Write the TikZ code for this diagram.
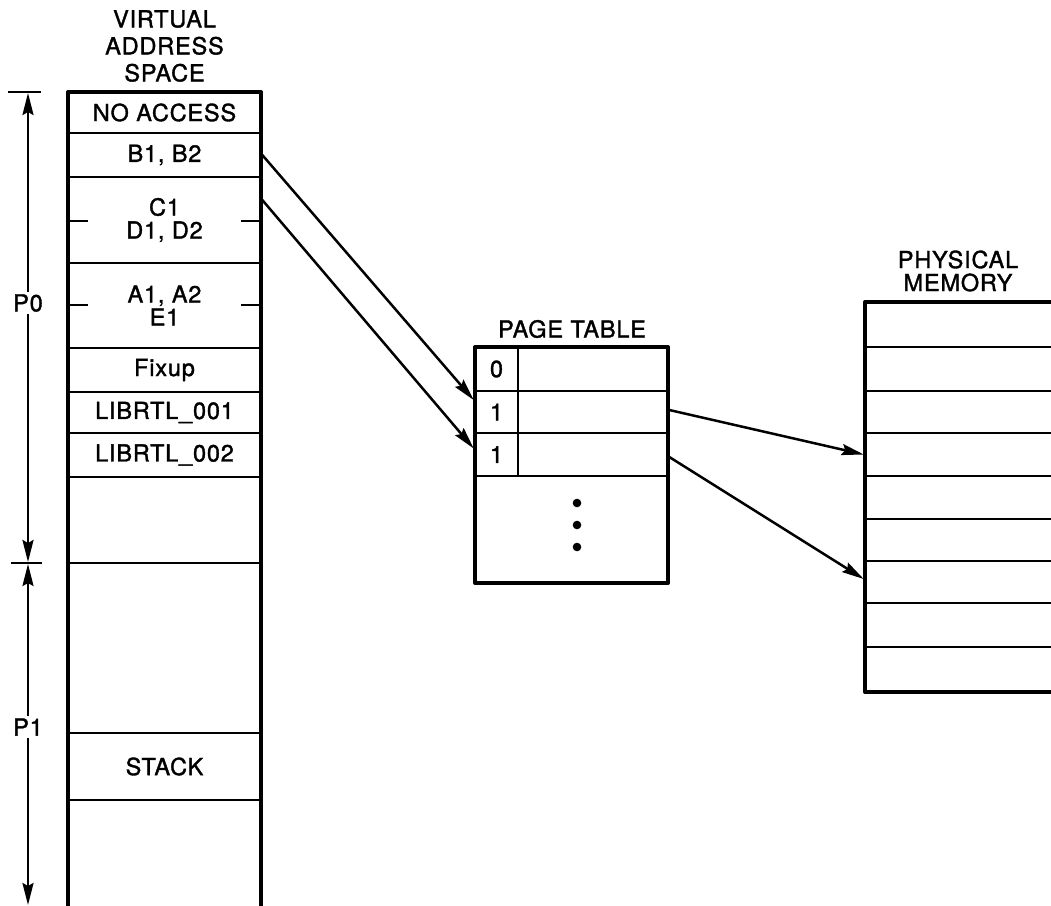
\documentclass[tikz,border=0pt]{standalone}
\usepackage{fontspec}
\setmainfont{TeX Gyre Heros}[LetterSpace=3.5, FakeBold=1.5]
\usetikzlibrary{arrows.meta}
\begin{document}
\begin{tikzpicture}[x=1pt,y=-1pt,
  txt/.style={font=\fontsize{23.5}{23}\selectfont, align=center, inner sep=2pt},
  cell/.style={draw, line width=2.6pt, inner sep=0pt, align=center, font=\fontsize{23.5}{23}\selectfont},
  vcell/.style={cell, minimum width=193pt},
  pcell/.style={cell, minimum width=234pt},
  outer/.style={line width=4pt, line join=round},
  thin/.style={line width=2.6pt},
  arr/.style={line width=2.5pt, -{Stealth[length=22pt,width=11pt,inset=3pt]}}
]
\useasboundingbox (0,0) rectangle (1051,905);
\clip (0,0) rectangle (1051,905);

% ---------- virtual address space ----------
\node[txt, font=\fontsize{23.5}{27}\selectfont] (vtitle) at (164.5,46) {VIRTUAL\\ADDRESS\\SPACE};

\node[vcell, minimum height=41pt] (na) at (164.5,112.5) {NO ACCESS};
\node[vcell, minimum height=44pt] (bb) at (164.5,155) {B1, B2};
\node[vcell, minimum height=86pt] (cc) at (164.5,220) {C1\\D1, D2};
\node[vcell, minimum height=85pt] (aa) at (164.5,305.5) {A1, A2\\E1};
\node[vcell, minimum height=44pt] (fx) at (164.5,370) {Fixup};
\node[vcell, minimum height=41pt] (l1) at (164.5,412.5) {LIBRTL\_001};
\node[vcell, minimum height=44pt] (l2) at (164.5,455) {LIBRTL\_002};
\node[vcell, minimum height=86pt] (e1) at (164.5,520) {};
\node[vcell, minimum height=170pt] (e2) at (164.5,648) {};
\node[vcell, minimum height=67pt] (st) at (164.5,766.5) {STACK};
\node[vcell, minimum height=130pt] (e3) at (164.5,865) {};
\draw[outer] (68,930) -- (68,92) -- (261,92) -- (261,930);

% tick marks
\draw[thin] (68,221) -- (88,221);
\draw[thin] (241,221) -- (261,221);
\draw[thin] (68,305) -- (88,305);
\draw[thin] (241,305) -- (261,305);

% P0 / P1 dimensions
\draw[thin] (8,92) -- (41,92);
\draw[thin] (11,563) -- (42,563);
\coordinate (p0top) at (28,93);
\coordinate (p0bot) at (28,562);
\coordinate (p1top) at (28,564);
\coordinate (p1bot) at (28,905);
\node[txt] (p0) at (28,303) {P0};
\node[txt] (p1) at (28,727) {P1};
\draw[arr] (p0.north) -- (p0top);
\draw[arr] (p0.south) -- (p0bot);
\draw[arr] (p1.north) -- (p1top);
\draw[arr] (p1.south) -- (p1bot);

% ---------- page table ----------
\node[txt] (pttitle) at (572,329) {PAGE TABLE};
\node[cell, minimum width=43pt, minimum height=44pt] (n0) at (496.5,369) {0};
\node[cell, minimum width=150pt, minimum height=44pt] (r0) at (593,369) {};
\node[cell, minimum width=43pt, minimum height=42pt] (n1) at (496.5,412) {1};
\node[cell, minimum width=150pt, minimum height=42pt] (r1) at (593,412) {};
\node[cell, minimum width=43pt, minimum height=43pt] (n2) at (496.5,454.5) {1};
\node[cell, minimum width=150pt, minimum height=43pt] (r2) at (593,454.5) {};
\node[cell, minimum width=193pt, minimum height=107pt] (rb) at (571.5,529.5) {};
\draw[outer] (475,347) rectangle (668,583);
\fill (577,503) circle (4.3pt);
\fill (577,525) circle (4.3pt);
\fill (577,547) circle (4.3pt);

% ---------- physical memory ----------
\node[txt] (pmtitle) at (958,271) {PHYSICAL\\MEMORY};
\node[pcell, minimum height=45pt] (m1) at (982,324.5) {};
\node[pcell, minimum height=44pt] (m2) at (982,369) {};
\node[pcell, minimum height=42pt] (m3) at (982,412) {};
\node[pcell, minimum height=43pt] (m4) at (982,454.5) {};
\node[pcell, minimum height=43pt] (m5) at (982,497.5) {};
\node[pcell, minimum height=42pt] (m6) at (982,540) {};
\node[pcell, minimum height=42pt] (m7) at (982,582) {};
\node[pcell, minimum height=44pt] (m8) at (982,625) {};
\node[pcell, minimum height=45pt] (m9) at (982,669.5) {};
\draw[outer] (1120,302) -- (865,302) -- (865,692) -- (1120,692);

% ---------- connectors ----------
\draw[arr] (bb.east) -- ([yshift=12pt]n1.west);
\draw[arr] ([yshift=20pt]cc.east) -- ([yshift=6pt]n2.west);
\draw[arr] ([yshift=2pt]r1.east) -- (m4.west);
\draw[arr] ([yshift=-2.5pt]r2.east) -- ([yshift=3pt]m7.west);
\end{tikzpicture}
\end{document}
